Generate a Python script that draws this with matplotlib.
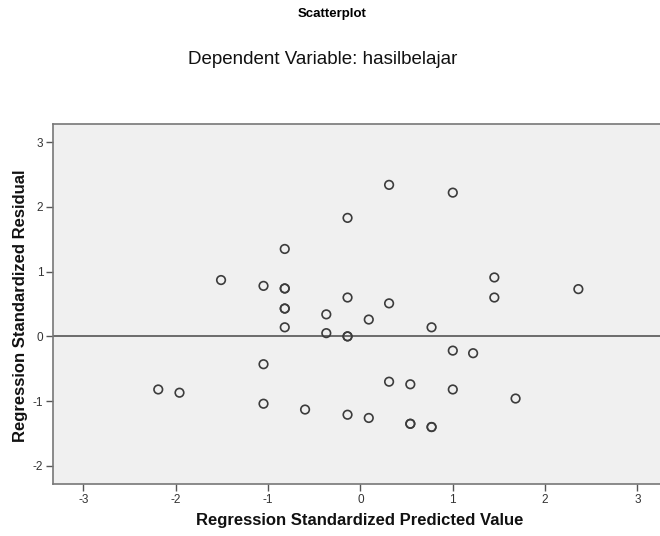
import matplotlib
matplotlib.use("Agg")
import matplotlib.pyplot as plt

plt.rcParams['font.family'] = ['Liberation Sans', 'DejaVu Sans']
plt.rcParams['axes.unicode_minus'] = False

# standardized predicted value / standardized residual
pred = [0.31, 1.00, -0.14, -0.82, -1.51, -1.05, -0.82, -0.82, 1.45, 1.45,
        2.36, -0.82, -0.82, -0.37, -0.14, 0.31, 0.09, -0.82, -0.37, -0.14,
        -0.14, 0.77, 1.00, 1.22, -1.05, 0.31, 0.54, 1.00, -2.19, -1.96,
        1.68, -1.05, -0.60, -0.14, 0.09, 0.54, 0.54, 0.77, 0.77]
resid = [2.34, 2.22, 1.83, 1.35, 0.87, 0.78, 0.74, 0.74, 0.91, 0.60,
         0.73, 0.43, 0.43, 0.34, 0.60, 0.51, 0.26, 0.14, 0.05, 0.00,
         0.00, 0.14, -0.22, -0.26, -0.43, -0.70, -0.74, -0.82, -0.82, -0.87,
         -0.96, -1.04, -1.13, -1.21, -1.26, -1.35, -1.35, -1.40, -1.40]

ticks = [-3, -2, -1, 0, 1, 2, 3]
yticks = [-2, -1, 0, 1, 2, 3]

W, H = 660, 536
fig = plt.figure(figsize=(W / 100, H / 100), dpi=100)
fig.patch.set_facecolor('white')

# axes box in pixels: left 53, right ~667 (runs off the image), top 124, bottom 484
ax = fig.add_axes([53 / W, 1 - 484 / H, (667 - 53) / W, (484 - 124) / H])
ax.set_facecolor('#f0f0f0')

ax.axhline(0, color='#555555', lw=1.2, zorder=1)
ax.scatter(pred, resid, s=38, facecolors='none', edgecolors='#3c3c3c',
           linewidths=1.2, zorder=2)

ax.set_xlim(-3.33, 3.32)
ax.set_ylim(-2.28, 3.28)
ax.set_xticks(ticks)
ax.set_yticks(yticks)
ax.tick_params(direction='out', length=5, width=1, color='#555555',
               labelsize=8.5, labelcolor='#333333', pad=2)
for s in ax.spines.values():
    s.set_color('#777777')
    s.set_linewidth(1.2)

ax.set_xlabel('Regression Standardized Predicted Value', fontsize=12,
              fontweight='bold', color='#111111')
ax.set_ylabel('Regression Standardized Residual', fontsize=12,
              fontweight='bold', color='#111111')
ax.xaxis.set_label_coords((360 - 53) / 614, (484 - 521) / 360)
ax.yaxis.set_label_coords((20 - 53) / 614, (484 - 306) / 360)
ax.xaxis.label.set_va('center')
ax.yaxis.label.set_va('center')

fig.text(332 / W, 1 - 14 / H, 'Scatterplot', ha='center', va='center',
         fontsize=9.5, fontweight='bold',
         family=['Liberation Sans Narrow', 'Liberation Sans'])
fig.text(323 / W, 1 - 60 / H, 'Dependent Variable: hasilbelajar',
         ha='center', va='center', fontsize=13.5, color='#111111')

fig.savefig('out.png', dpi=100)
